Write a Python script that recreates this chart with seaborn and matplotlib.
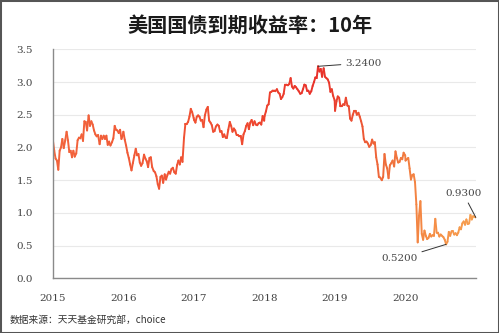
import numpy as np
import pandas as pd
import matplotlib
matplotlib.use("Agg")
import matplotlib.pyplot as plt
import matplotlib.dates as mdates
from matplotlib.collections import LineCollection
from matplotlib.colors import LinearSegmentedColormap
from matplotlib.patches import Rectangle
import seaborn as sns

# Weekly US 10-year treasury yield (%), one list per calendar year
y2015 = [2.11, 1.95, 1.83, 1.80, 1.66, 1.95, 2.00, 2.13, 1.99, 2.11, 2.24, 2.11, 1.93,
         1.95, 1.85, 1.95, 1.86, 1.91, 2.11, 2.15, 2.14, 2.20, 2.10, 2.40, 2.39, 2.26,
         2.49, 2.33, 2.40, 2.35, 2.26, 2.20, 2.17, 2.19, 2.05, 2.18, 2.13, 2.18, 2.13,
         2.18, 2.04, 2.09, 2.03, 2.08, 2.14, 2.33, 2.27, 2.26, 2.22, 2.27, 2.13, 2.20]
y2016 = [2.24, 2.12, 2.03, 1.92, 1.84, 1.74, 1.65, 1.76, 1.88, 1.98, 1.88, 1.90, 1.77,
         1.72, 1.76, 1.89, 1.83, 1.79, 1.70, 1.84, 1.85, 1.70, 1.64, 1.62, 1.56, 1.44,
         1.37, 1.55, 1.57, 1.46, 1.59, 1.51, 1.58, 1.63, 1.60, 1.67, 1.69, 1.62, 1.60,
         1.73, 1.80, 1.74, 1.85, 1.78, 2.15, 2.36, 2.36, 2.39, 2.47, 2.59, 2.54, 2.45]
y2017 = [2.42, 2.38, 2.47, 2.49, 2.47, 2.41, 2.42, 2.31, 2.49, 2.58, 2.62, 2.41, 2.38,
         2.34, 2.24, 2.25, 2.32, 2.35, 2.33, 2.24, 2.25, 2.16, 2.20, 2.15, 2.15, 2.27,
         2.39, 2.33, 2.24, 2.29, 2.26, 2.19, 2.19, 2.17, 2.17, 2.05, 2.20, 2.25, 2.33,
         2.37, 2.28, 2.38, 2.42, 2.34, 2.40, 2.35, 2.34, 2.37, 2.38, 2.35, 2.48, 2.41]
y2018 = [2.48, 2.55, 2.64, 2.66, 2.84, 2.85, 2.87, 2.87, 2.86, 2.89, 2.84, 2.82, 2.74,
         2.77, 2.82, 2.96, 2.96, 2.95, 2.97, 3.06, 2.93, 2.90, 2.94, 2.92, 2.89, 2.86,
         2.82, 2.83, 2.89, 2.96, 2.95, 2.87, 2.87, 2.82, 2.86, 2.94, 3.00, 3.07, 3.06,
         3.24, 3.16, 3.20, 3.08, 3.21, 3.08, 3.06, 3.04, 2.99, 2.85, 2.89, 2.79, 2.72]
y2019 = [2.56, 2.70, 2.78, 2.76, 2.63, 2.63, 2.66, 2.65, 2.76, 2.64, 2.63, 2.44, 2.41,
         2.50, 2.56, 2.56, 2.50, 2.53, 2.47, 2.40, 2.32, 2.13, 2.08, 2.09, 2.06, 2.01,
         2.04, 2.12, 2.06, 2.08, 1.85, 1.74, 1.55, 1.54, 1.50, 1.55, 1.90, 1.74, 1.68,
         1.53, 1.73, 1.76, 1.80, 1.71, 1.94, 1.84, 1.77, 1.78, 1.84, 1.82, 1.92, 1.88]
y2020 = [1.80, 1.82, 1.84, 1.68, 1.51, 1.58, 1.59, 1.47, 1.13, 0.55, 0.96, 1.18, 0.68,
         0.59, 0.73, 0.65, 0.60, 0.62, 0.68, 0.64, 0.66, 0.65, 0.91, 0.70, 0.70, 0.64,
         0.67, 0.65, 0.63, 0.59, 0.52, 0.56, 0.71, 0.65, 0.72, 0.72, 0.67, 0.69, 0.66,
         0.70, 0.78, 0.75, 0.84, 0.87, 0.82, 0.90, 0.83, 0.84, 0.97, 0.90, 0.95, 0.94, 0.93]

years = [2015, 2016, 2017, 2018, 2019, 2020]
yearly = [y2015, y2016, y2017, y2018, y2019, y2020]
y_ticks = [0.0, 0.5, 1.0, 1.5, 2.0, 2.5, 3.0, 3.5]

title = "美国国债到期收益率：10年"
source = "数据来源：天天基金研究部，choice"

frames = []
for yr, vals in zip(years, yearly):
    d = pd.date_range(f"{yr}-01-02", f"{yr}-12-31", periods=len(vals)).normalize()
    frames.append(pd.DataFrame({"date": d, "yield": vals}))
df = pd.concat(frames, ignore_index=True)

sns.set_style("white")
cjk = ["Noto Sans CJK SC", "DejaVu Sans"]
num_font = "DejaVu Serif"
grey = "#444444"

fig = plt.figure(figsize=(4.99, 3.33), dpi=100)
ax = fig.add_axes([0.1056, 0.164, 0.848, 0.688])

sns.lineplot(data=df, x="date", y="yield", ax=ax, color="#f0603a", lw=1.4)

# recolour the line with a left-to-right gradient
line = ax.lines[0]
xy = line.get_xydata()
line.remove()
pts = xy.reshape(-1, 1, 2)
segs = np.concatenate([pts[:-1], pts[1:]], axis=1)
cmap = LinearSegmentedColormap.from_list(
    "yield_grad",
    [(0.0, "#f2653c"), (0.45, "#ef4a30"), (0.63, "#e8302a"),
     (0.78, "#ef6a3a"), (0.88, "#f48a44"), (1.0, "#f7a050")])
xmin, xmax = mdates.date2num(pd.Timestamp("2015-01-01")), mdates.date2num(pd.Timestamp("2021-01-01"))
t = ((segs[:, 0, 0] + segs[:, 1, 0]) / 2 - xmin) / (xmax - xmin)
lc = LineCollection(segs, colors=cmap(t), linewidths=1.4, capstyle="round", joinstyle="round")
ax.add_collection(lc)

ax.set_xlim(pd.Timestamp("2015-01-01"), pd.Timestamp("2020-12-31"))
ax.set_ylim(0, 3.5)
ax.set_yticks(y_ticks)
ax.set_yticklabels([f"{v:.1f}" for v in y_ticks], fontfamily=num_font, fontsize=7.5, color=grey)
xt = [pd.Timestamp(f"{yr}-01-01") for yr in years]
ax.set_xticks(xt)
ax.set_xticklabels([str(yr) for yr in years], fontfamily=num_font, fontsize=7.5, color=grey)
ax.tick_params(axis="both", length=0)
ax.tick_params(axis="y", pad=14)
ax.tick_params(axis="x", pad=11)
ax.set_xlabel("")
ax.set_ylabel("")

ax.grid(axis="y", color="#e9e9e9", lw=0.8)
ax.grid(axis="x", visible=False)
ax.set_axisbelow(True)
for s in ["top", "right"]:
    ax.spines[s].set_visible(False)
for s in ["left", "bottom"]:
    ax.spines[s].set_color("#8a8a8a")
    ax.spines[s].set_linewidth(1.0)

# value labels
ann = dict(fontfamily=num_font, fontsize=7.5, color=grey)
arrow = dict(arrowstyle="-", color="#333333", lw=0.7, shrinkA=1, shrinkB=0)

i_max = df["yield"].idxmax()
ax.annotate(f"{df['yield'][i_max]:.4f}", xy=(df["date"][i_max], df["yield"][i_max]),
            xytext=(pd.Timestamp("2019-02-25"), 3.29), ha="left", va="center",
            arrowprops=arrow, **ann)

late = df[df["date"] > pd.Timestamp("2020-04-01")]
i_min = late["yield"].idxmin()
ax.annotate(f"{df['yield'][i_min]:.4f}", xy=(df["date"][i_min], df["yield"][i_min]),
            xytext=(pd.Timestamp("2020-03-03"), 0.30), ha="right", va="center",
            arrowprops=arrow, **ann)

i_last = df.index[-1]
ax.annotate(f"{df['yield'][i_last]:.4f}", xy=(df["date"][i_last], df["yield"][i_last]),
            xytext=(pd.Timestamp("2020-10-28"), 1.29), ha="center", va="center",
            arrowprops=arrow, **ann)

fig.text(0.501, 0.925, title, ha="center", va="center", fontsize=14.5,
         fontweight="bold", family=cjk, color="#1a1a1a")
fig.text(0.02, 0.039, source, ha="left", va="center", fontsize=7,
         family=cjk, color="#333333")

fig.add_artist(Rectangle((0, 0), 1, 1, transform=fig.transFigure, fill=False,
                         edgecolor="#555555", lw=2.2))

fig.savefig("out.png", dpi=100)
